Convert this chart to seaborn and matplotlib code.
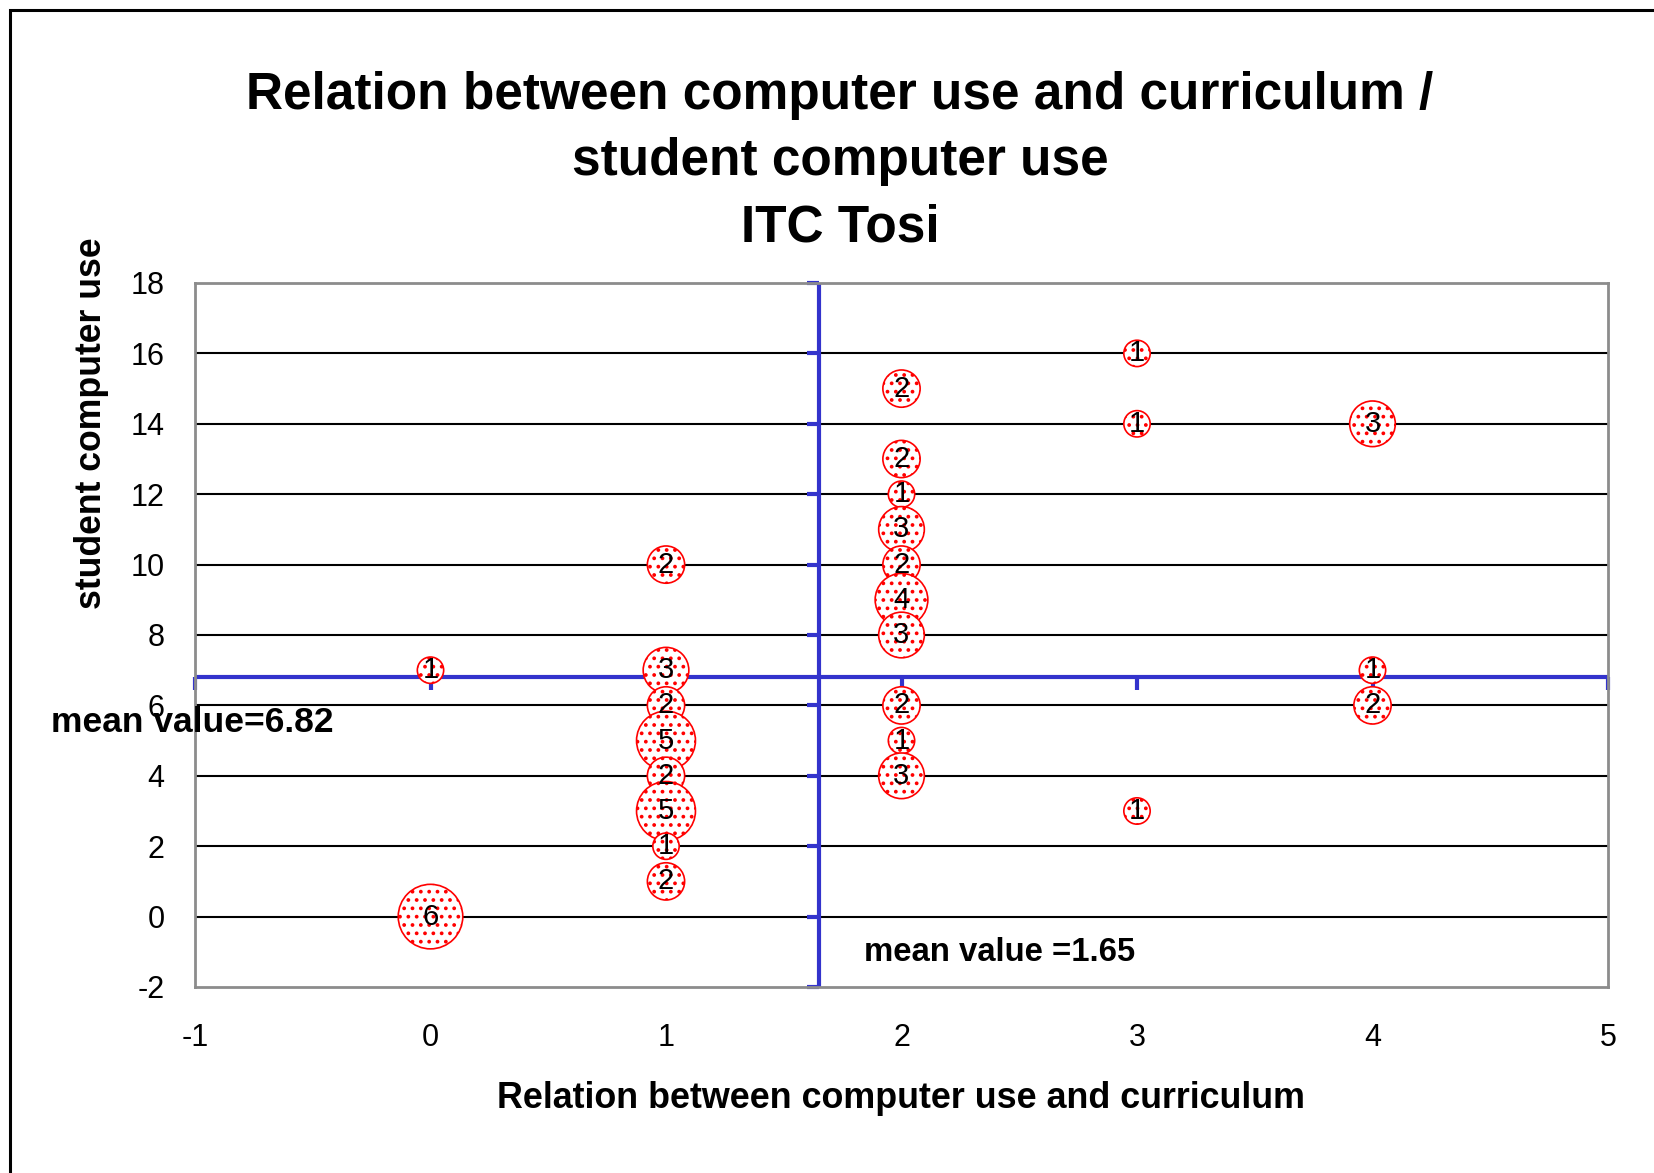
import numpy as np
import pandas as pd
import matplotlib
matplotlib.use("Agg")
import matplotlib.pyplot as plt
import matplotlib.patches as patches
import seaborn as sns

# Data: (curriculum relation, student use, number of answers)
curriculum = [0, 0,
              1, 1, 1, 1, 1, 1, 1, 1,
              2, 2, 2, 2, 2, 2, 2, 2, 2, 2,
              3, 3, 3,
              4, 4, 4]
student_use = [7, 0,
               10, 7, 6, 5, 4, 3, 2, 1,
               15, 13, 12, 11, 10, 9, 8, 6, 5, 4,
               16, 14, 3,
               14, 7, 6]
answers = [1, 6,
           2, 3, 2, 5, 2, 5, 1, 2,
           2, 2, 1, 3, 2, 4, 3, 2, 1, 3,
           1, 1, 1,
           3, 1, 2]

mean_x = 1.65
mean_y = 6.82
x_ticks = [-1, 0, 1, 2, 3, 4, 5]
y_ticks = [-2, 0, 2, 4, 6, 8, 10, 12, 14, 16, 18]

df = pd.DataFrame({"curriculum": curriculum, "student_use": student_use, "answers": answers})

# Style
sns.set_style("white")
plt.rcParams["font.family"] = ["Liberation Sans", "DejaVu Sans"]
plt.rcParams["axes.unicode_minus"] = False
plt.rcParams["text.color"] = "black"
plt.rcParams["xtick.color"] = "black"
plt.rcParams["ytick.color"] = "black"
plt.rcParams["hatch.color"] = "red"
plt.rcParams["hatch.linewidth"] = 1.5

blue = "#3333CC"

fig = plt.figure(figsize=(16.54, 11.73), dpi=100)
ax = fig.add_axes([195 / 1654, 1 - 987 / 1173, (1608 - 195) / 1654, (987 - 283) / 1173])

# horizontal gridlines
for yv in y_ticks[1:-1]:
    ax.axhline(yv, color="black", lw=1.5, zorder=1)

# mean lines with little tick marks
ax.axvline(mean_x, color=blue, lw=3, zorder=2)
ax.axhline(mean_y, color=blue, lw=3, zorder=2)
ax.plot([mean_x] * len(y_ticks), y_ticks, ls="none", marker=0, ms=9, mew=3,
        color=blue, zorder=2, clip_on=False)
ax.plot(x_ticks, [mean_y] * len(x_ticks), ls="none", marker=3, ms=9, mew=3,
        color=blue, zorder=2, clip_on=False)

# bubbles
sns.scatterplot(
    data=df, x="curriculum", y="student_use",
    size="answers", sizes=(360, 2160), size_norm=(1, 6),
    color="white", edgecolor="red", linewidth=1.2, hatch="..",
    legend=False, zorder=3, ax=ax
)
for cx, sy, n in zip(curriculum, student_use, answers):
    ax.text(cx, sy, str(n), ha="center", va="center", fontsize=21, zorder=4)

ax.set_xlim(-1, 5)
ax.set_ylim(-2, 18)
ax.set_xticks(x_ticks)
ax.set_yticks(y_ticks)
ax.tick_params(axis="both", length=0, labelsize=22)
ax.tick_params(axis="x", pad=26)
ax.tick_params(axis="y", pad=22)
for s in ax.spines.values():
    s.set_color("#8c8c8c")
    s.set_linewidth(2)

ax.set_xlabel("")
ax.set_ylabel("")
fig.text(901 / 1654, 1 - 1098 / 1173, "Relation between computer use and curriculum",
         ha="center", va="center", fontsize=25.8, fontweight="bold")
fig.text(92 / 1654, 1 - 423 / 1173, "student computer use", rotation=90,
         ha="center", va="center", fontsize=25.7, fontweight="bold")

fig.text(840 / 1654, 1 - 162 / 1173,
         "Relation between computer use and curriculum /\nstudent computer use\nITC Tosi",
         ha="center", va="center", fontsize=37, fontweight="bold", linespacing=1.45)

fig.text(51 / 1654, 1 - 722 / 1173, "mean value=6.82", ha="left", va="center",
         fontsize=25.5, fontweight="bold", zorder=5)
ax.text(1.84, -1.03, "mean value =1.65", ha="left", va="center",
        fontsize=23.7, fontweight="bold")

# outer chart border (only left and top visible)
fig.patches.append(patches.Rectangle((10 / 1654, -0.1), 2, 1 - 10 / 1173 + 0.1,
                                     transform=fig.transFigure, fill=False,
                                     ec="black", lw=2.2, figure=fig))

fig.savefig("out.png", dpi=100)
